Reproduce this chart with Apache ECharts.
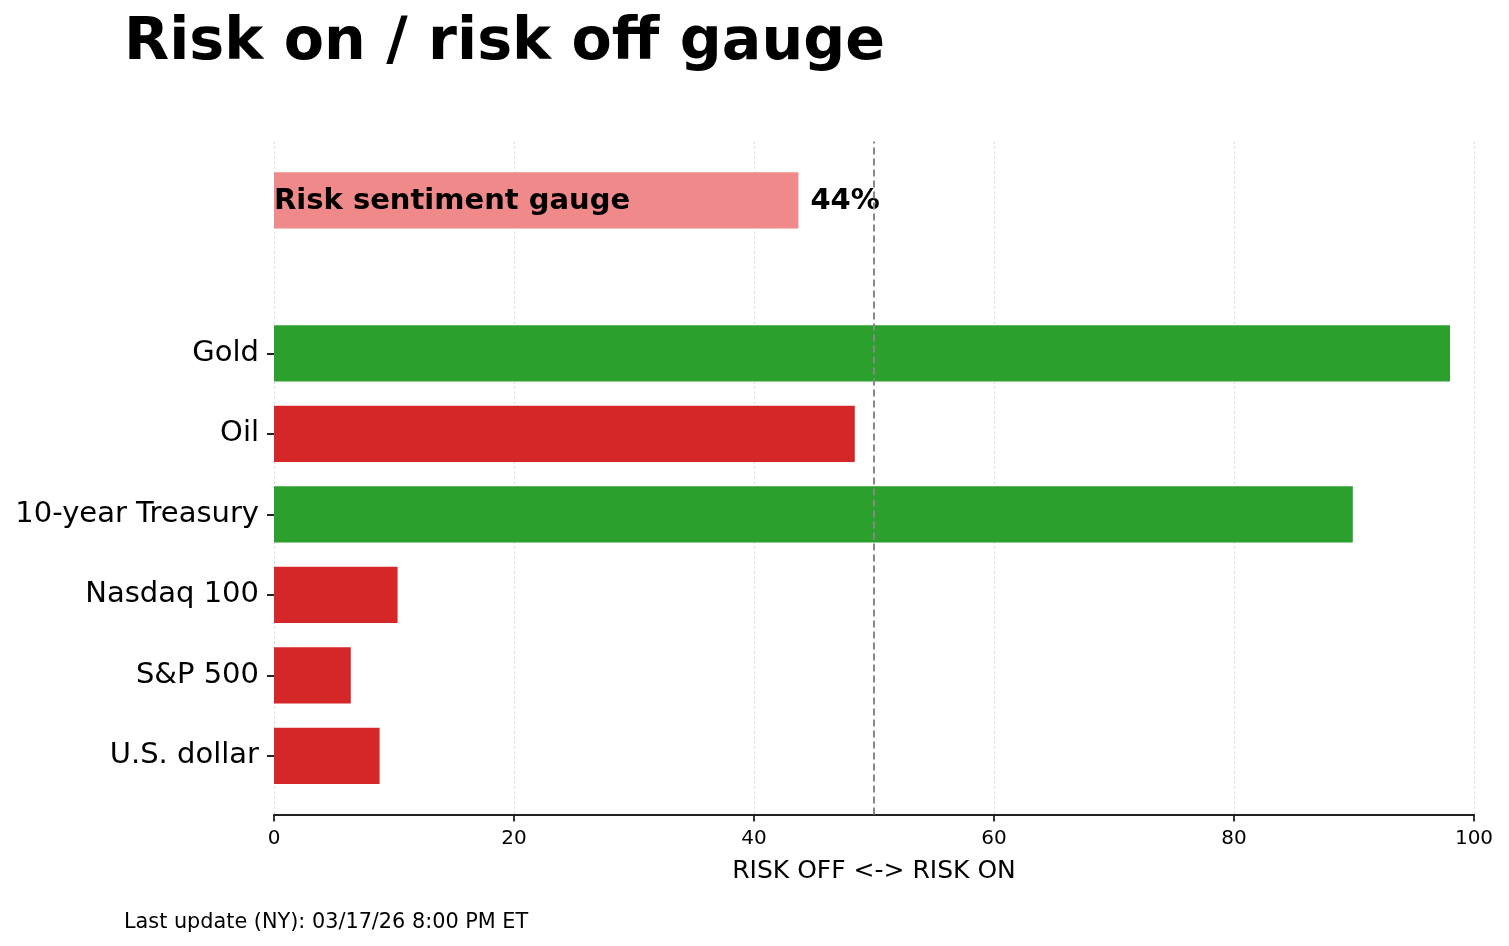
<!DOCTYPE html>
<html>
<head>
<meta charset="utf-8">
<script src="https://cdn.jsdelivr.net/npm/echarts@6/dist/echarts.min.js"></script>
<style>
html,body{margin:0;padding:0;background:#fff;}
#chart{width:1509px;height:946px;}
</style>
</head>
<body>
<div id="chart"></div>
<script>
// ---- data ----
const categories = ['Gold', 'Oil', '10-year Treasury', 'Nasdaq 100', 'S&P 500', 'U.S. dollar'];
const values = [98.0, 48.4, 89.9, 10.3, 6.4, 8.8];
const gaugeLabel = 'Risk sentiment gauge';
const gaugeValue = 43.7;
const xTicks = [0, 20, 40, 60, 80, 100];
const titleText = 'Risk on / risk off gauge';
const xAxisName = 'RISK OFF <-> RISK ON';
const footerText = 'Last update (NY): 03/17/26 8:00 PM ET';
const neutralLine = 50;

// ---- layout / style constants ----
const FONT = '"DejaVu Sans", sans-serif';
const GREEN = '#2ca02c', RED = '#d62728', GAUGE = '#f08a8a';
const BAR_H = 0.7;
const GAUGE_POS = 6.9;
const n = categories.length;
const yPos = categories.map((c, i) => n - 1 - i);
const barData = categories.map((c, i) => [yPos[i], values[i]]);
const labelMap = {};
categories.forEach((c, i) => { labelMap[yPos[i]] = c; });

const chart = echarts.init(document.getElementById('chart'), null, {renderer: 'canvas'});

function barRender(params, api) {
  const y = api.value(0), v = api.value(1);
  const s = api.coord([0, y]);
  const e = api.coord([v, y]);
  const h = api.size([0, BAR_H])[1];
  return {
    type: 'rect',
    shape: {x: s[0], y: s[1] - h / 2, width: e[0] - s[0], height: h},
    style: {fill: v > 50 ? GREEN : RED}
  };
}

function gaugeRender(params, api) {
  const y = api.value(0), v = api.value(1);
  const s = api.coord([0, y]);
  const e = api.coord([v, y]);
  const h = api.size([0, BAR_H])[1];
  return {
    type: 'group',
    children: [
      {type: 'rect', shape: {x: s[0], y: s[1] - h / 2, width: e[0] - s[0], height: h}, style: {fill: GAUGE}},
      {type: 'text', z2: 10, style: {text: gaugeLabel, x: s[0], y: s[1] + 1, align: 'left', verticalAlign: 'middle',
        font: 'bold 29px ' + FONT, fill: '#000'}},
      {type: 'text', z2: 10, style: {text: Math.round(v) + '%', x: e[0] + 12, y: s[1] + 1, align: 'left', verticalAlign: 'middle',
        font: 'bold 29px ' + FONT, fill: '#000'}}
    ]
  };
}

const option = {
  backgroundColor: '#fff',
  animation: false,
  title: {
    text: titleText, left: 119, top: 9,
    textStyle: {fontFamily: FONT, fontSize: 58.7, fontWeight: 'bold', color: '#000'}
  },
  graphic: [{
    type: 'text', left: 124, top: 912,
    style: {text: footerText, font: '20.8px ' + FONT, fill: '#000'}
  }],
  grid: {left: 274, right: 35, top: 141.6, bottom: 131.4, outerBoundsMode: 'none', containLabel: false},
  xAxis: {
    type: 'value', min: 0, max: 100, interval: 20,
    name: xAxisName, nameLocation: 'middle', nameGap: 44,
    nameTextStyle: {fontFamily: FONT, fontSize: 25, color: '#000'},
    axisLine: {show: true, onZero: false, lineStyle: {color: '#222', width: 1.8}},
    axisTick: {show: true, length: 7, lineStyle: {color: '#222', width: 1.8}},
    axisLabel: {fontFamily: FONT, fontSize: 20, color: '#000', margin: 14,
      formatter: v => (xTicks.indexOf(v) >= 0 ? String(v) : '')},
    splitLine: {show: true, lineStyle: {type: [2, 3], color: '#d4d4d4', width: 1}}
  },
  yAxis: {
    type: 'value', min: -0.73, max: 7.63,
    axisLine: {show: false, onZero: false},
    splitLine: {show: false},
    axisTick: {show: true, length: 7, customValues: yPos, lineStyle: {color: '#222', width: 2}},
    axisLabel: {show: true, customValues: yPos, margin: 15, padding: [5, 0, 0, 0], fontFamily: FONT, fontSize: 29, color: '#000',
      formatter: v => labelMap[Math.round(v)] || ''}
  },
  series: [
    {
      type: 'custom', name: 'bars', renderItem: barRender, data: barData,
      encode: {x: 1, y: 0}, silent: true,
      markLine: {
        silent: true, symbol: 'none', label: {show: false},
        lineStyle: {type: [7, 4], color: '#888', width: 2},
        data: [{xAxis: neutralLine}]
      }
    },
    {
      type: 'custom', name: 'gauge', renderItem: gaugeRender, data: [[GAUGE_POS, gaugeValue]],
      encode: {x: 1, y: 0}, silent: true
    }
  ]
};
chart.setOption(option);
</script>
</body>
</html>
